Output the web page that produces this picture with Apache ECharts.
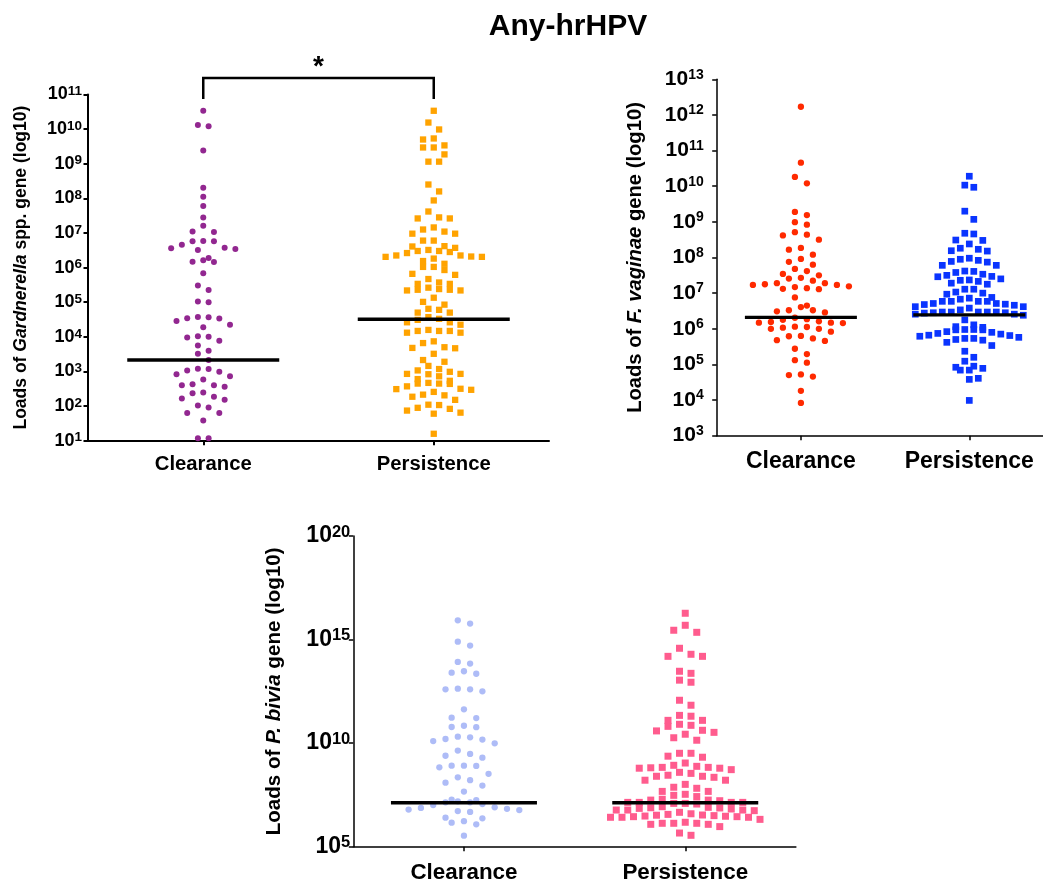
<!DOCTYPE html>
<html>
<head>
<meta charset="utf-8">
<script src="https://cdn.jsdelivr.net/npm/echarts@6/dist/echarts.min.js"></script>
<style>html,body{margin:0;padding:0;background:#fff}#c{width:1043px;height:886px}</style>
</head>
<body>
<div id="c"></div>
<script>
// ---------- DATA (log10 of gene loads) ----------
const categories = ['Clearance', 'Persistence'];
const chartTitle = 'Any-hrHPV';
const sigLabel = '*';

// Gardnerella spp.
const gardClearanceLog = [10.53, 10.08, 10.12, 9.38, 8.31, 8.05, 7.78, 7.45, 7.21, 7.03, 7.04,
  6.76, 6.66, 6.77, 6.76, 6.57, 6.56, 6.54, 6.51, 6.28, 6.17, 6.16, 6.21, 5.84,
  5.48, 5.35, 5.02, 5.00, 4.575, 4.567, 4.54, 4.53, 4.46, 4.35, 4.28, 4.00, 4.02, 3.98,
  3.89, 3.75, 3.60, 3.51, 3.33, 2.99, 3.03, 3.08, 3.07, 2.86, 2.92, 2.77, 2.60, 2.56, 2.60, 2.63,
  2.37, 2.39, 2.18, 2.27, 2.22, 2.02, 1.96, 1.80, 1.80, 1.58, 1.07, 1.07];
const gardPersistenceLog = [10.53, 10.19, 9.99, 9.73, 9.70, 9.47, 9.47, 9.53, 9.27, 9.06, 9.06,
  8.40, 8.20, 7.94, 7.62, 7.45, 7.42, 7.42, 7.16, 7.10, 6.98, 6.98, 7.04, 6.78, 6.78,
  6.62, 6.45, 6.57, 6.42, 6.26, 6.61, 6.35, 6.48, 6.31, 6.48, 6.31, 6.32, 6.51, 6.35,
  6.11, 5.93, 6.19, 6.02, 6.02, 5.82, 5.79, 5.67, 5.57, 5.53, 5.53, 5.36, 5.42, 5.36, 5.34, 5.34, 5.38,
  5.13, 5.01, 4.93, 4.78, 4.70, 4.81, 4.70, 4.57, 4.49, 4.52, 4.35, 4.42, 4.42,
  4.17, 4.17, 4.12, 4.12, 4.20, 4.17, 3.87, 3.70, 3.82, 3.67, 3.68, 3.51, 3.33, 3.28, 3.16,
  2.99, 3.07, 2.92, 3.03, 2.86, 2.93, 2.93, 2.78, 2.73, 2.67, 2.65, 2.65, 2.57, 2.41,
  2.64, 2.47, 2.31, 2.50, 2.49, 2.33, 2.27, 2.18, 2.03, 1.87, 2.04, 1.92, 1.95, 1.78, 1.81, 1.20];
const gardMedianLog = [3.33, 4.51];

// F. vaginae
const fvagClearanceLog = [12.23, 10.66, 10.26, 10.08, 9.28, 9.19, 8.99, 8.92, 8.62, 8.64, 8.71, 8.50,
  8.27, 8.22, 8.08, 7.96, 7.88, 7.80, 7.68, 7.62, 7.54, 7.50, 7.43, 7.41, 7.35, 7.28, 7.25, 7.28,
  7.23, 7.23, 7.19, 7.11, 7.17, 7.12, 7.14, 6.88, 6.49, 6.52, 6.61, 6.52, 6.65, 6.46, 6.31, 6.27,
  6.19, 6.17, 6.25, 6.21, 6.17, 6.16, 6.00, 6.06, 6.00, 6.03, 6.05, 5.92, 5.80, 5.73, 5.79, 5.68,
  5.66, 5.44, 5.29, 5.12, 5.05, 4.70, 4.72, 4.66, 4.26, 3.92];
const fvagPersistenceLog = [10.28, 10.03, 9.97, 9.30, 9.07, 8.68, 8.49, 8.66, 8.48, 8.38, 8.19, 8.23,
  8.18, 8.26, 7.98, 7.78, 7.78, 7.92, 7.89, 7.87, 7.95, 7.50, 7.53, 7.33, 7.46, 7.28, 7.62, 7.58,
  7.61, 7.47, 7.37, 7.36, 7.40, 7.25, 7.03, 6.83, 6.62, 7.11, 7.11, 6.97, 6.77, 7.00, 6.88, 6.77,
  6.77, 6.58, 6.41, 6.77, 6.71, 6.86, 6.68, 6.71, 6.53, 6.69, 6.66, 6.47, 6.62, 6.44, 6.47, 6.47,
  6.47, 6.47, 6.45, 6.41, 6.38, 6.45, 6.25, 6.06, 6.04, 6.11, 5.87, 5.97, 5.73, 5.98, 5.81, 5.98,
  5.79, 5.92, 5.73, 5.85, 5.97, 5.76, 5.90, 5.68, 5.82, 5.62, 5.70, 5.53, 5.37, 5.20, 5.09, 4.84,
  4.95, 4.84, 4.92, 4.89, 4.61, 4.58, 3.99];
const fvagMedianLog = [6.32, 6.39];

// P. bivia
const pbivClearanceLog = [15.77, 15.93, 14.90, 14.71, 13.84, 13.92, 13.40, 13.35, 13.47,
  12.60, 12.63, 12.60, 12.50, 11.63, 11.23, 11.21, 10.84, 10.78, 10.77, 10.17, 10.10, 10.31, 10.20, 10.28,
  9.99, 9.64, 9.39, 9.48, 9.30, 8.91, 8.90, 8.91, 8.83, 8.52, 8.35, 8.21, 8.09, 7.95, 7.66,
  7.27, 7.19, 7.14, 7.14, 7.25, 7.06, 7.01, 6.77, 6.83, 6.68, 6.87, 6.72, 6.79, 6.90,
  6.23, 6.37, 6.40, 6.16, 6.08, 5.53];
const pbivPersistenceLog = [16.27, 15.69, 15.35, 15.45, 14.58, 14.19, 14.19, 14.29, 13.47, 13.04,
  13.37, 12.94, 12.07, 11.83, 11.30, 11.10, 11.34, 10.81, 11.10, 10.43, 10.91, 10.59, 10.26, 10.62, 10.14,
  10.86, 10.52, 9.37, 9.04, 8.72, 8.40, 9.51, 9.51, 9.32, 8.88, 8.83, 8.79, 8.93, 8.81, 8.59, 8.79, 8.40,
  8.83, 8.54, 8.21, 8.45, 8.35, 8.21, 8.01, 7.87, 7.82, 7.67, 7.67, 7.53, 7.48,
  7.14, 7.14, 6.82, 6.50, 7.22, 6.88, 6.53, 6.18, 6.93, 6.42, 7.09, 6.56, 6.13, 7.14, 6.66, 6.32,
  7.29, 6.77, 6.42, 5.97, 5.55, 7.14, 6.77, 6.45, 6.13, 5.66, 7.09, 6.77, 6.45, 6.08,
  7.25, 6.90, 6.47, 6.08, 6.87, 6.59, 6.13, 7.42, 7.06, 6.74, 6.42, 6.85, 6.52, 7.25, 6.48];
const pbivMedianLog = [7.12, 7.12];

// axis ranges (log10 exponents) and tick step
const gardRange = [1, 11, 1];
const fvagRange = [3, 13, 1];
const pbivRange = [5, 20, 5];

// ---------- LAYOUT ----------
const FONT = "'Liberation Sans', Arial, sans-serif";
const grids = [
  {left: 88, top: 94.5, width: 461, height: 346.2},
  {left: 716.7, top: 79.3, width: 336.8, height: 356.4},
  {left: 353.3, top: 536, width: 442.6, height: 310.7}
];
const ranges = [gardRange, fvagRange, pbivRange];

function pxPerDecade(i) { return grids[i].height / (ranges[i][1] - ranges[i][0]); }

// Beeswarm-style row layout: values close in y share a row and spread sideways.
function swarm(logs, cat, gi, stepPx, rowPx) {
  const rowLog = rowPx / pxPerDecade(gi);
  const sorted = logs.slice().sort((a, b) => b - a);
  const rows = [];
  let cur = null;
  sorted.forEach(v => {
    if (cur && cur[0] - v < rowLog) cur.push(v);
    else { cur = [v]; rows.push(cur); }
  });
  const items = [];
  rows.forEach(row => {
    const n = row.length;
    const pos = [];
    for (let i = 0; i < n; i++) pos.push(i - (n - 1) / 2);
    pos.sort((a, b) => Math.abs(a) - Math.abs(b) || a - b);
    row.forEach((v, i) => items.push({value: [cat, Math.pow(10, v)], symbolOffset: [pos[i] * stepPx, 0]}));
  });
  return items;
}

function yAxisCfg(gi, baseSize, supSize, margin, lineW, nameRich, nameSize, nameGap) {
  const r = ranges[gi];
  return {
    type: 'log', logBase: 10, gridIndex: gi,
    min: Math.pow(10, r[0]), max: Math.pow(10, r[1]), interval: r[2],
    splitLine: {show: false},
    minorTick: {show: false},
    axisLine: {show: true, lineStyle: {color: '#000', width: lineW}},
    axisTick: {show: true, length: 4.5, lineStyle: {color: '#000', width: lineW}},
    axisLabel: {
      margin: margin,
      formatter: v => '{b|10}{s|' + Math.round(Math.log10(v)) + '}',
      rich: {
        b: {fontSize: baseSize, fontWeight: 'bold', color: '#000', fontFamily: FONT, lineHeight: baseSize + 2},
        s: {fontSize: supSize, fontWeight: 'bold', color: '#000', fontFamily: FONT, verticalAlign: 'top', lineHeight: supSize}
      }
    },
    name: nameRich, nameLocation: 'middle', nameRotate: 90, nameGap: nameGap,
    nameTextStyle: {
      rich: {
        n: {fontSize: nameSize, fontWeight: 'bold', color: '#000', fontFamily: FONT},
        i: {fontSize: nameSize, fontWeight: 'bold', fontStyle: 'italic', color: '#000', fontFamily: FONT}
      }
    }
  };
}

function xAxisCfg(gi, fontSize, margin, lineW) {
  return {
    type: 'category', gridIndex: gi, data: categories, boundaryGap: true,
    axisLine: {show: true, lineStyle: {color: '#000', width: lineW}},
    axisTick: {show: true, alignWithLabel: true, length: 4.5, lineStyle: {color: '#000', width: lineW}},
    axisLabel: {fontSize: fontSize, fontWeight: 'bold', color: '#000', fontFamily: FONT, margin: margin},
    splitLine: {show: false}
  };
}

function dots(gi, logs, cat, symbol, size, color, stepPx, rowPx) {
  return {
    type: 'scatter', xAxisIndex: gi, yAxisIndex: gi, symbol: symbol, symbolSize: size,
    itemStyle: {color: color, opacity: 1}, silent: true, z: 2,
    data: swarm(logs, cat, gi, stepPx, rowPx)
  };
}

function medians(gi, meds, width) {
  return {
    type: 'scatter', xAxisIndex: gi, yAxisIndex: gi, symbol: 'rect', symbolSize: [width, 3.4],
    itemStyle: {color: '#000', opacity: 1}, silent: true, z: 5,
    data: meds.map((m, i) => [i, Math.pow(10, m)])
  };
}

const series = [
  dots(0, gardClearanceLog, 0, 'circle', 6, '#922790', 10.7, 8.2),
  dots(0, gardPersistenceLog, 1, 'rect', 6.3, '#FFA300', 10.7, 8.2),
  medians(0, gardMedianLog, 152),
  dots(1, fvagClearanceLog, 0, 'circle', 6.3, '#FF2A00', 12, 8.6),
  dots(1, fvagPersistenceLog, 1, 'rect', 6.7, '#0A34FF', 9, 8.6),
  medians(1, fvagMedianLog, 112),
  dots(2, pbivClearanceLog, 0, 'circle', 6.3, '#AEBCF7', 12.3, 8.8),
  dots(2, pbivPersistenceLog, 1, 'rect', 7, '#FF5C8E', 11.5, 8.8),
  medians(2, pbivMedianLog, 146),
  {
    type: 'custom', xAxisIndex: 0, yAxisIndex: 0, clip: false, silent: true, z: 6,
    data: [[0, Math.pow(10, gardRange[1]), 1]],
    renderItem: function (params, api) {
      const yMax = Math.pow(10, gardRange[1]);
      const a = api.coord([api.value(0), yMax]);
      const b = api.coord([api.value(2), yMax]);
      const top = a[1];
      const hy = top - 16.5;
      return {
        type: 'group',
        children: [
          {type: 'polyline', shape: {points: [[a[0], top + 4.5], [a[0], hy], [b[0], hy], [b[0], top + 4.5]]},
           style: {stroke: '#000', lineWidth: 2.5, fill: null}},
          {type: 'text', x: (a[0] + b[0]) / 2, y: top - 27,
           style: {text: sigLabel, fontSize: 28, fontWeight: 'bold', fontFamily: FONT, fill: '#000',
                   align: 'center', verticalAlign: 'middle'}}
        ]
      };
    }
  }
];

const option = {
  animation: false,
  backgroundColor: '#fff',
  textStyle: {fontFamily: FONT},
  title: {
    text: chartTitle, left: 563, top: 7, textAlign: 'center',
    textStyle: {fontSize: 30, fontWeight: 'bold', color: '#000', fontFamily: FONT}
  },
  grid: grids.map(g => Object.assign({containLabel: false, outerBoundsMode: 'none'}, g)),
  xAxis: [xAxisCfg(0, 20.3, 14, 2), xAxisCfg(1, 23, 14.5, 1.5), xAxisCfg(2, 22.4, 15, 1.5)],
  yAxis: [
    yAxisCfg(0, 18, 13.5, 6, 2, '{n|Loads of }{i|Gardnerella}{n| spp. gene (log10)}', 17.5, 58),
    yAxisCfg(1, 21, 14, 13, 1.5, '{n|Loads of }{i|F. vaginae}{n| gene (log10)}', 20.2, 71.5),
    yAxisCfg(2, 23, 16.5, 3, 1.5, '{n|Loads of }{i|P. bivia}{n| gene (log10)}', 20.6, 68)
  ],
  series: series
};

const chart = echarts.init(document.getElementById('c'), null, {renderer: 'canvas'});
chart.setOption(option);
</script>
</body>
</html>
